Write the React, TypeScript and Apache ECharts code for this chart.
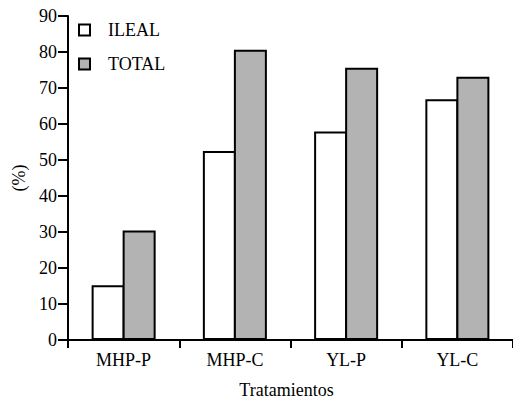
import React, { useEffect, useRef } from "react";
import * as echarts from "echarts";

const categories = ["MHP-P", "MHP-C", "YL-P", "YL-C"];
const ilealValues = [15.2, 52.5, 57.9, 66.9];
const totalValues = [30.4, 80.6, 75.6, 73.1];
const seriesNames = ["ILEAL", "TOTAL"];
const yAxisName = "(%)";
const xAxisName = "Tratamientos";

const FONT = "Liberation Serif";

export default function App() {
  const ref = useRef<HTMLDivElement>(null);
  useEffect(() => {
    if (!ref.current) return;
    const chart = echarts.init(ref.current, null, { renderer: "svg" });
    chart.setOption({
      animation: false,
      backgroundColor: "#ffffff",
      textStyle: { fontFamily: FONT },
      grid: { left: 68, right: 0, top: 16, bottom: 62, containLabel: false, outerBoundsMode: "none" },
      legend: {
        orient: "vertical",
        left: 78,
        top: 20,
        padding: 0,
        itemWidth: 11,
        itemHeight: 11,
        itemGap: 14,
        icon: "rect",
        textStyle: { fontFamily: FONT, fontSize: 18, color: "#000", lineHeight: 20, padding: [0, 0, 0, 13] },
        data: seriesNames,
      },
      xAxis: {
        type: "category",
        data: categories,
        name: xAxisName,
        nameLocation: "middle",
        nameGap: 41,
        nameTextStyle: { fontFamily: FONT, fontSize: 18, color: "#000", padding: [0, 8, 0, 0] },
        axisLine: { lineStyle: { color: "#000", width: 2 } },
        axisTick: { show: true, length: 8, lineStyle: { color: "#000", width: 2 } },
        axisLabel: { fontFamily: FONT, fontSize: 18, color: "#000", margin: 11 },
      },
      yAxis: {
        type: "value",
        min: 0,
        max: 90,
        interval: 10,
        name: yAxisName,
        nameLocation: "middle",
        nameGap: 40,
        nameRotate: 90,
        nameTextStyle: { fontFamily: FONT, fontSize: 18, color: "#000" },
        splitLine: { show: false },
        axisLine: { show: true, lineStyle: { color: "#000", width: 2 } },
        axisTick: { show: true, length: 10, lineStyle: { color: "#000", width: 2 } },
        axisLabel: { fontFamily: FONT, fontSize: 18, color: "#000", margin: 11 },
      },
      series: [
        {
          name: seriesNames[0],
          type: "bar",
          data: ilealValues,
          barWidth: 33,
          barGap: "-6%",
          itemStyle: { color: "#ffffff", borderColor: "#000", borderWidth: 2 },
        },
        {
          name: seriesNames[1],
          type: "bar",
          data: totalValues,
          barWidth: 33,
          barGap: "-6%",
          itemStyle: { color: "#b3b3b3", borderColor: "#000", borderWidth: 2 },
        },
      ],
    });
    return () => chart.dispose();
  }, []);
  return (
    <div
      ref={ref}
      style={{ position: "fixed", left: 0, top: 0, width: 513, height: 402 }}
    />
  );
}
